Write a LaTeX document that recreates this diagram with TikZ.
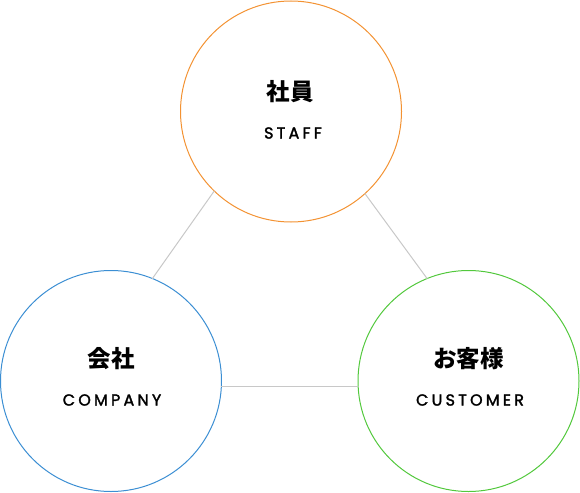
\documentclass[tikz,border=0pt]{standalone}
\usepackage{fontspec}
\newfontfamily\jpfont{Noto Sans CJK JP}
\newfontfamily\enfont[LetterSpace=20,FakeBold=1.8]{Poppins}
\definecolor{staffcol}{HTML}{F39232}
\definecolor{companycol}{HTML}{3B8ED3}
\definecolor{customercol}{HTML}{52C83C}
\definecolor{linkcol}{HTML}{C8C8C8}
\begin{document}
\begin{tikzpicture}[x=1pt,y=-1pt,line join=round,line cap=round,
		ring/.style={circle,draw,line width=1pt,minimum size=221pt,inner sep=0pt,outer sep=0pt},
		link/.style={draw=linkcol,line width=1pt},
		jp/.style={font=\jpfont\bfseries\fontsize{23.5}{24}\selectfont,inner sep=0pt},
		en/.style={font=\enfont\fontsize{16}{16}\selectfont,inner sep=0pt}]
					\useasboundingbox (0,0) rectangle (580,492);
					\node[ring,draw=staffcol] (staff) at (291,111.5) {};
					\node[ring,draw=companycol] (company) at (111,381) {};
					\node[ring,draw=customercol] (customer) at (468.5,381) {};
					\draw[link] (staff.226)--(company.68);
					\draw[link] (staff.312)--(customer.112);
					\draw[link] (company.-3)--(customer.183.5);
					\node[jp] (staffjp) at (290,92) {社員};
					\node[en] (staffen) at (293,133) {STAFF};
					\node[jp] (companyjp) at (111,359) {会社};
					\node[en] (companyen) at (112,400) {COMPANY};
					\node[jp] (customerjp) at (468.5,359) {お客様};
					\node[en] (customeren) at (470,400) {CUSTOMER};
			\end{tikzpicture}
\end{document}
